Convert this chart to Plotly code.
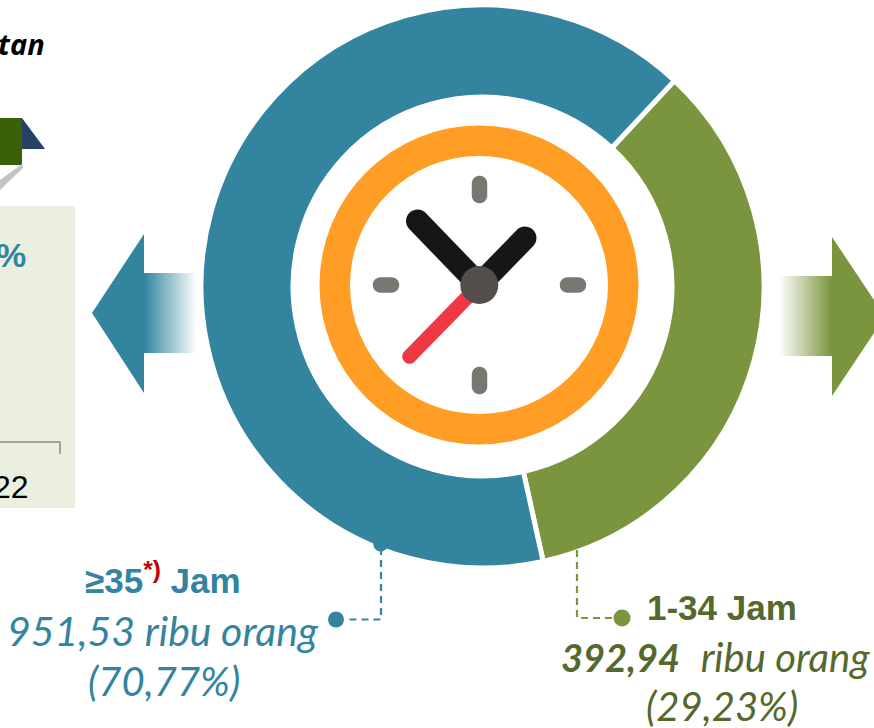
import numpy as np
import plotly.graph_objects as go

# Printed values, as labelled in the picture
categories = ["1-34 Jam", "≥35 Jam"]
printed_values = ["392,94", "951,53"]
printed_shares = ["29,23%", "70,77%"]
# Arc shares as actually drawn in the picture (its arcs are not proportional to the printed figures)
arc_shares = [34.6, 65.4]

TEAL = "#33859F"
OLIVE = "#7A953D"
DARK_OLIVE = "#55682E"
W, H = 874, 728
CX, CY, R = 482.5, 286.5, 281.5


def capsule(x0, y0, x1, y1, w):
    a = np.arctan2(y1 - y0, x1 - x0)
    t0 = np.linspace(a + np.pi / 2, a + 3 * np.pi / 2, 14)
    t1 = np.linspace(a - np.pi / 2, a + np.pi / 2, 14)
    xs = np.r_[x0 + w / 2 * np.cos(t0), x1 + w / 2 * np.cos(t1)]
    ys = np.r_[y0 + w / 2 * np.sin(t0), y1 + w / 2 * np.sin(t1)]
    return "M" + "L".join(f"{x:.2f},{y:.2f}" for x, y in zip(xs, ys)) + "Z"


def poly(*pts):
    return "M" + "L".join(f"{x},{y}" for x, y in pts) + "Z"


def mix(c, t):
    c = [int(c[i:i + 2], 16) for i in (1, 3, 5)]
    return "rgb(" + ",".join(str(round(255 + (v - 255) * t)) for v in c) + ")"


shapes = []


def add_path(path, color):
    shapes.append(dict(type="path", path=path, fillcolor=color, line=dict(width=0)))


def add_rect(x0, y0, x1, y1, color):
    shapes.append(dict(type="rect", x0=x0, y0=y0, x1=x1, y1=y1, fillcolor=color, line=dict(width=0)))


def add_circle(x, y, r, color):
    shapes.append(dict(type="circle", x0=x - r, y0=y - r, x1=x + r, y1=y + r, fillcolor=color, line=dict(width=0)))


def add_dash(pts, color):
    shapes.append(dict(type="path", path="M" + "L".join(f"{x},{y}" for x, y in pts),
                       line=dict(color=color, width=2.2, dash="7px,5px")))


# Left panel fragment
add_rect(0, 206, 75, 508, "#EBEFDF")
shapes.append(dict(type="path", path="M0,442L60,442L60,454", line=dict(color="#8C8C8C", width=1.5)))
# Calendar fragment
add_path(poly((22, 118), (45, 149), (22, 149)), "#264066")
add_rect(0, 118, 22, 165, "#3A6008")
add_path(poly((0, 180), (22, 164), (23, 168), (0, 190)), "#C4C4C4")

# Arrows
add_path(poly((92, 313), (144, 234), (144, 393)), TEAL)
add_path(poly((832, 237), (832, 396), (885, 316.5)), OLIVE)
for i in range(53):
    t = (i + 0.5) / 53
    add_rect(144 + i, 273, 145 + i, 353, mix(TEAL, 1 - t))
    add_rect(779 + i, 276, 780 + i, 356, mix(OLIVE, t))

# Clock
add_circle(479, 285, 159.5, "#FF9D24")
add_circle(479, 285, 129, "#FFFFFF")
for seg in [(479.5, 183.5, 479.5, 195.5), (479.5, 374.5, 479.5, 386.5),
            (380.5, 285, 391.5, 285), (567.5, 285, 578.5, 285)]:
    add_path(capsule(*seg, 15.5), "#7A7672")
add_path(capsule(479.3, 285, 409.5, 356.5, 14.5), "#EF3842")
add_path(capsule(479.3, 285, 417.5, 221, 23), "#161616")
add_path(capsule(479.3, 285, 525, 238, 23), "#161616")
add_circle(479.3, 285, 19, "#534E4B")

# Connectors
add_dash([(381, 548), (381, 619.5), (345, 619.5)], TEAL)
add_circle(380.7, 544, 7.5, TEAL)
add_circle(336, 619.5, 8, TEAL)
add_dash([(577, 550), (577, 618), (615, 618)], OLIVE)
add_circle(622, 618, 8.5, OLIVE)

fig = go.Figure(go.Pie(
    labels=categories,
    values=arc_shares,
    sort=False,
    direction="clockwise",
    rotation=43,
    hole=0.673,
    marker=dict(colors=[OLIVE, TEAL], line=dict(color="#FFFFFF", width=5)),
    textinfo="none",
    hoverinfo="label",
    showlegend=False,
    domain=dict(x=[(CX - R) / W, (CX + R) / W], y=[1 - (CY + R) / H, 1 - (CY - R) / H]),
))

SANS = "Liberation Sans"
LATO = "Lato"


def note(x, y, text, anchor, size, color, family):
    return dict(x=x, y=y, xref="x", yref="y", text=text, xanchor=anchor, yanchor="middle",
                showarrow=False, align="center", font=dict(size=size, color=color, family=family))


annotations = [
    note(47, 43, "<b><i>tan</i></b>", "right", 29, "#000000", "Open Sans"),
    note(28, 255, "<b>%</b>", "right", 34, TEAL, SANS),
    note(31, 487, "22", "right", 32, "#000000", SANS),
    note(163, 578, f"<b>{categories[1].split()[0]}<span style='color:#C00000'><sup>*)</sup></span> Jam</b>",
         "center", 35, TEAL, SANS),
    note(163, 630, f"<i>{printed_values[1]} ribu orang</i>", "center", 41, TEAL, LATO),
    note(164, 681, f"<i>({printed_shares[1]})</i>", "center", 40, TEAL, LATO),
    note(645, 607, f"<b>{categories[0]}</b>", "left", 35, DARK_OLIVE, SANS),
    note(559, 657, f"<span style='font-size:38px'><b><i>{printed_values[0]}</i></b></span>  <i>ribu orang</i>",
         "left", 40, DARK_OLIVE, LATO),
    note(722, 706, f"<i>({printed_shares[0]})</i>", "center", 40, DARK_OLIVE, LATO),
]

fig.update_layout(
    width=W, height=H, autosize=False,
    margin=dict(l=0, r=0, t=0, b=0),
    paper_bgcolor="#FFFFFF", plot_bgcolor="rgba(0,0,0,0)",
    xaxis=dict(range=[0, W], visible=False, fixedrange=True),
    yaxis=dict(range=[H, 0], visible=False, fixedrange=True),
    shapes=shapes, annotations=annotations,
)
fig.write_html("out.html", config=dict(displayModeBar=False),
               post_script="document.body.style.margin='0';document.body.style.overflow='hidden';")
